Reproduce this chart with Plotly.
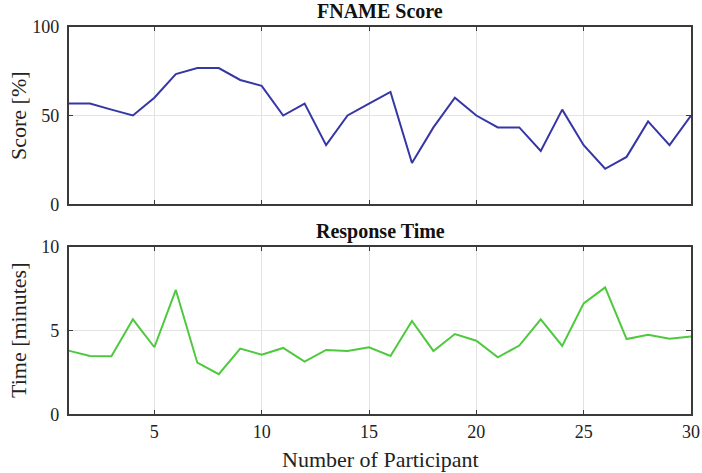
import plotly.graph_objects as go

participants = list(range(1, 31))
score = [56.7, 56.7, 53.3, 50.0, 60.0, 73.3, 76.7, 76.7, 70.0, 66.7,
         50.0, 56.7, 33.3, 50.0, 56.7, 63.3, 23.3, 43.3, 60.0, 50.0,
         43.3, 43.3, 30.0, 53.3, 33.3, 20.0, 26.7, 46.7, 33.3, 50.0]
resp_time = [3.80, 3.48, 3.46, 5.67, 4.00, 7.42, 3.08, 2.39, 3.92, 3.56,
             3.96, 3.14, 3.84, 3.78, 4.00, 3.48, 5.57, 3.78, 4.79, 4.39,
             3.40, 4.10, 5.67, 4.08, 6.62, 7.57, 4.49, 4.75, 4.51, 4.65]
x_ticks = [5, 10, 15, 20, 25, 30]
score_ticks = [0, 50, 100]
time_ticks = [0, 5, 10]

W, H = 702, 473
def px(x): return x / W
def py(y): return 1 - y / H

FONT = "Liberation Serif"
AX = "#3a3a3a"
GRID = "#e3e3e3"

fig = go.Figure()
fig.add_trace(go.Scatter(x=participants, y=score, mode="lines",
                         line=dict(color="#3636a6", width=2),
                         xaxis="x", yaxis="y", showlegend=False))
fig.add_trace(go.Scatter(x=participants, y=resp_time, mode="lines",
                         line=dict(color="#4ec93e", width=2),
                         xaxis="x2", yaxis="y2", showlegend=False))

common_x = dict(range=[1, 30], tickvals=x_ticks, ticks="inside", ticklen=5,
                tickcolor=AX, showline=True, linecolor=AX, linewidth=1.5,
                mirror="allticks", showgrid=True, gridcolor=GRID, gridwidth=1,
                zeroline=False, domain=[px(68.5), px(691)], automargin=False,
                tickfont=dict(family=FONT, size=18, color="#222222"))
common_y = dict(ticks="inside", ticklen=5, tickcolor=AX, showline=True,
                linecolor=AX, linewidth=1.5, mirror="allticks", showgrid=True,
                gridcolor=GRID, gridwidth=1, zeroline=False, automargin=False,
                ticklabelstandoff=4,
                tickfont=dict(family=FONT, size=18, color="#222222"))

fig.update_layout(
    width=W, height=H,
    margin=dict(l=0, r=0, t=0, b=0),
    paper_bgcolor="white", plot_bgcolor="white",
    xaxis=dict(common_x, anchor="y", showticklabels=False),
    yaxis=dict(common_y, anchor="x", range=[0, 100], tickvals=score_ticks,
               domain=[py(204.3), py(26.7)]),
    xaxis2=dict(common_x, anchor="y2"),
    yaxis2=dict(common_y, anchor="x2", range=[0, 10], tickvals=time_ticks,
                domain=[py(414.3), py(246.7)]),
)

ann_font = dict(family=FONT, size=22, color="#222222")
title_font = dict(family=FONT, size=20, color="#111111")
fig.add_annotation(text="<b>FNAME Score</b>", x=px(380), y=py(24), xref="paper",
                   yref="paper", xanchor="center", yanchor="bottom",
                   showarrow=False, font=title_font)
fig.add_annotation(text="<b>Response Time</b>", x=px(380), y=py(245), xref="paper",
                   yref="paper", xanchor="center", yanchor="bottom",
                   showarrow=False, font=title_font)
fig.add_annotation(text="Score [%]", x=px(18), y=py(116), xref="paper",
                   yref="paper", xanchor="center", yanchor="middle",
                   textangle=-90, showarrow=False, font=ann_font)
fig.add_annotation(text="Time [minutes]", x=px(18), y=py(331), xref="paper",
                   yref="paper", xanchor="center", yanchor="middle",
                   textangle=-90, showarrow=False, font=ann_font)
fig.add_annotation(text="Number of Participant", x=px(380), y=py(459), xref="paper",
                   yref="paper", xanchor="center", yanchor="middle",
                   showarrow=False, font=ann_font)

fig.write_html("out.html", config={"displayModeBar": False},
               post_script="document.body.style.margin='0';document.body.style.overflow='hidden';")
